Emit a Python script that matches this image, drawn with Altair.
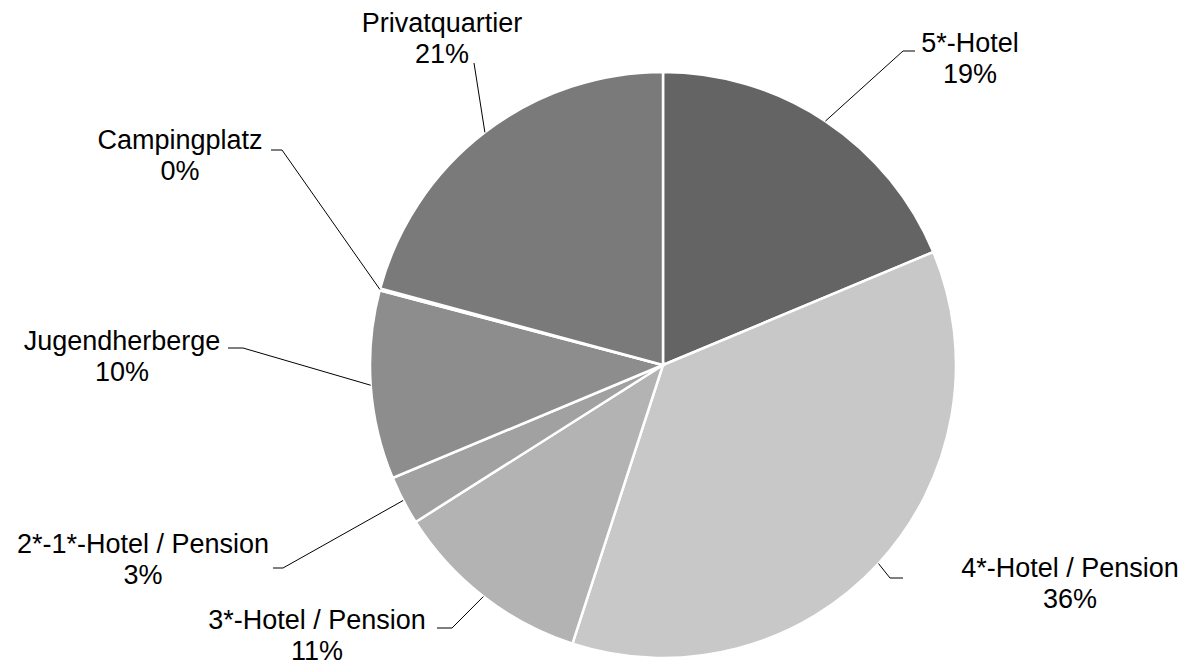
import math
import altair as alt
import pandas as pd

# ---- data ----
categories = ["5*-Hotel", "4*-Hotel / Pension", "3*-Hotel / Pension",
              "2*-1*-Hotel / Pension", "Jugendherberge", "Campingplatz", "Privatquartier"]
shares = [18.7, 36.3, 11.0, 2.7, 10.4, 0.1, 20.8]
pct_labels = ["19%", "36%", "11%", "3%", "10%", "0%", "21%"]
colors = ["#646464", "#c8c8c8", "#b3b3b3", "#a1a1a1", "#8d8d8d", "#828282", "#7a7a7a"]

# ---- layout (chart pixel coordinates) ----
W, H = 1181, 657
CX, CY, R = 655, 357, 293
# label centre x, name baseline y, leader elbow, leader end
label_layout = {
    "5*-Hotel":              dict(tx=962, ty=44, elbow=(895, 43), end=(907, 43)),
    "4*-Hotel / Pension":    dict(tx=1062, ty=569, elbow=(882, 570), end=(895, 570)),
    "3*-Hotel / Pension":    dict(tx=309, ty=621, elbow=(444, 620), end=(429, 620)),
    "2*-1*-Hotel / Pension": dict(tx=135, ty=545, elbow=(275, 560), end=(265, 560)),
    "Jugendherberge":        dict(tx=114, ty=342, elbow=(235, 340), end=(220, 340)),
    "Campingplatz":          dict(tx=172, ty=141, elbow=(274, 142), end=(263, 142)),
    "Privatquartier":        dict(tx=434, ty=24, elbow=(466, 55), end=(466, 55)),
}
LINE_GAP = 31

total = sum(shares)
df = pd.DataFrame({"cat": categories, "share": shares, "pct": pct_labels,
                   "idx": list(range(len(categories)))})

# leader lines: start at slice mid-angle on the rim
rows = []
cum = 0.0
for i, (c, s) in enumerate(zip(categories, shares)):
    mid = (cum + s / 2) / total * 2 * math.pi
    cum += s
    sx = CX + R * math.sin(mid)
    sy = CY - R * math.cos(mid)
    lay = label_layout[c]
    pts = [(sx, sy), lay["elbow"], lay["end"]]
    for k, (px, py) in enumerate(pts):
        rows.append({"cat": c, "k": k, "x": px, "y": py})
lines_df = pd.DataFrame(rows)

lab_rows = []
for c, p in zip(categories, pct_labels):
    lay = label_layout[c]
    lab_rows.append({"cat": c, "pct": p, "x": lay["tx"], "y": lay["ty"], "y2": lay["ty"] + LINE_GAP})
lab_df = pd.DataFrame(lab_rows)

xs = alt.Scale(domain=[0, W], range=[0, W])
ys = alt.Scale(domain=[0, H], range=[0, H])

pie = alt.Chart(df).mark_arc(outerRadius=R, stroke="white", strokeWidth=2.5).encode(
    theta=alt.Theta("share:Q", stack=True),
    color=alt.Color("cat:N", scale=alt.Scale(domain=categories, range=colors), legend=None),
    order=alt.Order("idx:Q"),
    x=alt.value(CX), y=alt.value(CY),
)

leaders = alt.Chart(lines_df).mark_line(color="black", strokeWidth=1).encode(
    x=alt.X("x:Q", scale=xs, axis=None),
    y=alt.Y("y:Q", scale=ys, axis=None),
    detail="cat:N",
    order="k:Q",
)

font = dict(font="Liberation Sans", fontSize=27, align="center", baseline="alphabetic", color="black")
names = alt.Chart(lab_df).mark_text(**font).encode(
    x=alt.X("x:Q", scale=xs, axis=None),
    y=alt.Y("y:Q", scale=ys, axis=None),
    text="cat:N",
)
pcts = alt.Chart(lab_df).mark_text(**font).encode(
    x=alt.X("x:Q", scale=xs, axis=None),
    y=alt.Y("y2:Q", scale=ys, axis=None),
    text="pct:N",
)

chart = alt.layer(pie, leaders, names, pcts).properties(
    width=W, height=H, padding=0, autosize=alt.AutoSizeParams(type="none"),
    background="white",
).configure_view(stroke=None)

chart.save("out.html", embed_options={"renderer": "svg", "actions": False})
